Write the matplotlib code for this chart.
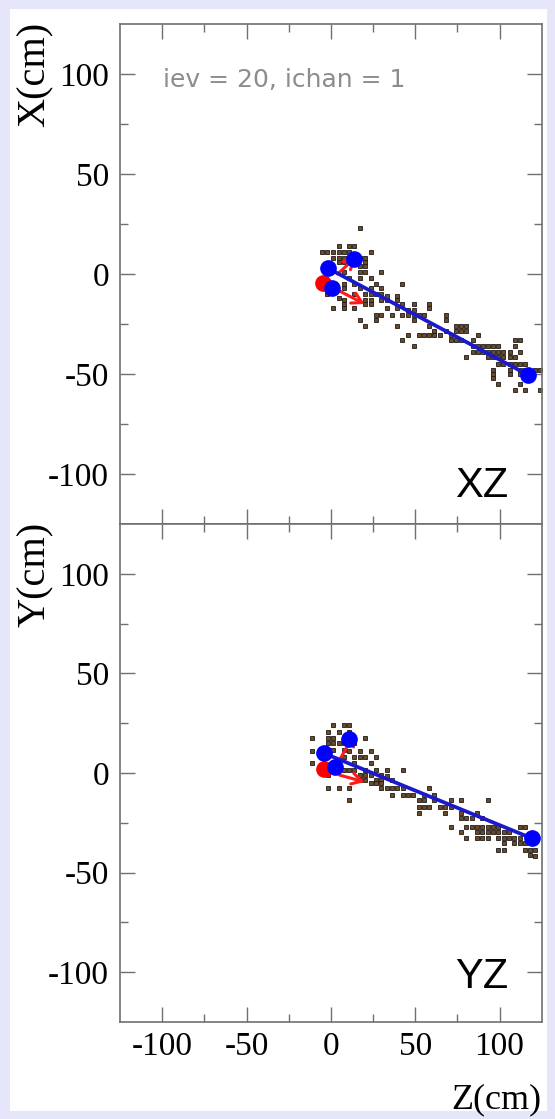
import numpy as np
import matplotlib
matplotlib.use("Agg")
import matplotlib.pyplot as plt
from matplotlib.patches import Rectangle

# ---------------- data (cm) ----------------
tick_major = [-100, -50, 0, 50, 100]
tick_minor = [-75, -25, 25, 75]
tick_labels = ["-100", "-50", "0", "50", "100"]

# XZ view: hits (Z, X)
xz_hits = np.array([
    (17, 23),
    (5, 14), (11, 14), (14, 14),
    (-5, 11), (-2, 11), (1.5, 11), (5, 11), (8, 11), (11, 11), (24, 11),
    (1.5, 8), (5, 8), (8, 8), (17, 8), (20, 8),
    (5, 6), (8, 6), (20, 6),
    (17, 4), (20, 4),
    (8, 1), (17, 1), (20, 1), (30, 1),
    (11, -2), (17, -2), (24, -2),
    (8, -5), (14, -5), (27, -5), (42, -5),
    (8, -7), (17, -7), (24, -7), (30, -7),
    (-2, -10), (14, -10), (20, -10), (24, -10), (27, -10), (30, -10),
    (33, -11), (39, -11),
    (5, -12), (8, -13), (20, -13), (24, -13), (30, -13), (33, -13), (39, -13),
    (8, -15), (20, -15), (24, -15), (42, -15), (49, -15), (58, -15),
    (1.5, -17), (8, -17), (14, -17), (33, -17), (39, -17), (58, -17),
    (46, -18), (49, -18),
    (27, -20.5), (30, -20.5), (36, -20.5), (42, -20.5), (46, -20.5), (49, -20.5),
    (52, -20.5), (55, -20.5), (68, -20.5),
    (17, -23), (27, -23), (49, -23), (68, -23),
    (20, -26), (39, -26), (58, -26), (74, -26), (77, -26), (80, -26),
    (61, -28.5), (68, -28.5), (74, -28.5), (77, -28.5), (80, -28.5),
    (46, -30.5), (52, -30.5), (55, -30.5), (58, -30.5), (61, -30.5), (65, -30.5),
    (71, -30.5), (87, -30.5),
    (42, -33), (71, -33), (74, -33), (77, -33), (84, -33), (109, -33), (112, -33),
    (49, -36), (84, -36), (87, -36), (90, -36), (93, -36), (96, -36), (99, -36), (109, -36),
    (84, -39), (87, -39), (90, -39), (93, -39), (96, -39), (99, -39), (102, -39),
    (106, -39), (112, -39),
    (80, -41.5), (93, -41.5), (96, -41.5), (99, -41.5), (102, -41.5), (106, -41.5), (109, -41.5),
    (99, -45), (102, -45), (106, -45), (109, -45), (112, -45), (115, -45),
    (96, -48), (106, -48), (112, -48), (115, -48), (121, -48), (124, -48),
    (96, -50), (106, -50), (112, -50),
    (96, -52),
    (99, -55), (112, -55),
    (109, -58), (115, -58), (124, -58),
])

# YZ view: hits (Z, Y)
yz_hits = np.array([
    (1.5, 24), (8, 24), (11, 24),
    (-1.6, 20.5), (4.7, 20.5), (11, 20.5),
    (-11, 17.4), (-1.6, 17.4), (1.5, 17.4), (14, 17.4), (20, 17.4),
    (-1.6, 15), (1.5, 15), (4.7, 15), (7.8, 15), (14, 15),
    (-11, 11), (1.5, 11.5), (7.8, 11.5), (11, 11), (17, 11), (24, 11),
    (7.8, 8.2), (14, 8.2), (17, 8.2), (20, 8.2), (27, 8.2),
    (-11, 5), (14, 5), (24, 5),
    (7.8, 1.5), (11, 1.5), (14, 1.5), (20, 1.5), (27, 1.5), (33, 1.5), (42.5, 1.5),
    (-1.6, -1), (17, -1), (20, -1), (24, -1), (30, -1), (33, -1.5),
    (17, -3.5), (20, -3.5), (27, -3.5), (30, -3.5), (36, -3.5),
    (24, -5), (27, -5), (30, -5),
    (-1.6, -7.7), (4.7, -7.7), (11, -7.7), (30, -7.7), (33, -7.7), (36, -7.7),
    (39, -7.7), (42.5, -7.7), (58, -7.7),
    (36, -11), (42.5, -11), (45.7, -11), (48.8, -11), (55, -11), (61.4, -11),
    (11, -13.5), (52, -13.5), (55, -13.5), (61.4, -13.5), (71, -13.5), (77, -13.5), (93, -13.5),
    (52, -17.2), (55, -17.2), (58, -17.2), (64.6, -17.2), (67.7, -17.2), (71, -17.2),
    (52, -20.2), (67.7, -20.2), (77, -20.2), (86.6, -20.2),
    (77, -22.8), (80.3, -22.8), (83.5, -22.8), (89.8, -22.8),
    (71, -27), (80.3, -27), (83.5, -27), (86.6, -27), (89.8, -27), (93, -27), (96, -27),
    (99, -27), (112, -27), (115, -27),
    (77, -29.4), (86.6, -29.4), (89.8, -29.4), (93, -29.4), (96, -29.4), (99, -29.4),
    (102.4, -29.4), (105.5, -29.4),
    (80.3, -32.8), (86.6, -32.8), (89.8, -32.8), (93, -32.8), (99, -32.8), (102.4, -32.8),
    (105.5, -32.8), (108.7, -32.8), (112, -32.8),
    (102.4, -35.3), (108.7, -35.3), (112, -35.3), (115, -35.3),
    (99, -38.6), (102.4, -38.6), (115, -38.6), (118, -38.6), (121, -38.6),
    (118, -41.2), (121, -41.5),
])

# reconstructed objects
xz_track_z = [-1.5, 117.0]
xz_track_x = [2.8, -50.5]
xz_blue_z = [-1.5, 13.7, 0.9, 117.0]
xz_blue_x = [2.8, 7.5, -6.8, -50.5]
xz_red_z = [-4.4]
xz_red_x = [-4.7]
xz_arrows = [((4.0, 0.0), (15.0, 8.5)), ((4.0, -8.0), (20.0, -15.0))]

yz_track_z = [-4.0, 119.2]
yz_track_y = [9.9, -32.8]
yz_blue_z = [-4.0, 11.0, 2.5, 119.2]
yz_blue_y = [9.9, 17.1, 3.2, -32.8]
yz_red_z = [-3.8]
yz_red_y = [2.0]
yz_arrows = [((4.0, 5.0), (14.5, 20.0)), ((5.0, -1.0), (20.0, -4.5))]

info_text = "iev = 20, ichan = 1"

# ---------------- figure ----------------
W, H = 555, 1119
fig = plt.figure(figsize=(W / 100, H / 100), dpi=100)
fig.patch.set_facecolor("#e6e6fa")
fig.add_artist(Rectangle((10 / W, 1 - 1111 / H), 537 / W, 1102 / H,
                         transform=fig.transFigure, facecolor="white",
                         edgecolor="none", zorder=-10))

L, R = 120, 541.7
ax_top = fig.add_axes([L / W, 1 - 524 / H, (R - L) / W, 500 / H])
ax_bot = fig.add_axes([L / W, 1 - 1022 / H, (R - L) / W, 498 / H])

serif = "Liberation Serif"
frame_col = "#707070"

for ax in (ax_top, ax_bot):
    ax.set_xlim(-125, 125)
    ax.set_ylim(-125, 125)
    ax.set_xticks(tick_major)
    ax.set_xticks(tick_minor, minor=True)
    ax.set_yticks(tick_major)
    ax.set_yticks(tick_minor, minor=True)
    ax.set_yticklabels(tick_labels, fontfamily=serif, fontsize=24)
    ax.tick_params(which="major", direction="in", length=11, width=1,
                   color=frame_col, top=True, right=True, pad=8)
    ax.tick_params(which="minor", direction="in", length=6, width=1,
                   color=frame_col, top=True, right=True)
    for s in ax.spines.values():
        s.set_color(frame_col)
        s.set_linewidth(1.2)
    ax.set_facecolor("white")

ax_top.tick_params(labelbottom=False)
ax_bot.set_xticklabels(tick_labels, fontfamily=serif, fontsize=24)
ax_bot.tick_params(axis="x", which="major", pad=7)


def draw_view(ax, hits, tz, tv, bz, bv, rz, rv, arrows):
    ax.plot(hits[:, 0], hits[:, 1], "s", ms=2.7, mfc="#6b4a2a", mec="#1e1a16",
            mew=0.6, zorder=2, clip_on=True)
    for (s, e) in arrows:
        ax.annotate("", xy=e, xytext=s,
                    arrowprops=dict(arrowstyle="->,head_length=0.7,head_width=0.4",
                                    color="#ff1a1a", lw=2.2, shrinkA=0, shrinkB=0),
                    zorder=3)
    ax.plot(tz, tv, "-", color="#1a1acc", lw=2.7, zorder=4)
    ax.plot(rz, rv, "o", ms=11, color="#ff0000", mec="#ff0000", zorder=5)
    ax.plot(bz, bv, "o", ms=11, color="#0000ff", mec="#0000ff", zorder=6)


draw_view(ax_top, xz_hits, xz_track_z, xz_track_x, xz_blue_z, xz_blue_x,
          xz_red_z, xz_red_x, xz_arrows)
draw_view(ax_bot, yz_hits, yz_track_z, yz_track_y, yz_blue_z, yz_blue_y,
          yz_red_z, yz_red_y, yz_arrows)

# texts
fig.text(163 / W, 1 - 87 / H, info_text, fontfamily="DejaVu Sans", fontsize=18,
         color="#8c8c8c", ha="left", va="baseline")
fig.text(508 / W, 1 - 497 / H, "XZ", fontfamily="Liberation Sans", fontsize=30,
         color="black", ha="right", va="baseline")
fig.text(508 / W, 1 - 988 / H, "YZ", fontfamily="Liberation Sans", fontsize=30,
         color="black", ha="right", va="baseline")
fig.text(35 / W, 1 - 74 / H, "X(cm)", fontfamily=serif, fontsize=29,
         rotation=90, ha="center", va="center")
fig.text(35 / W, 1 - 574 / H, "Y(cm)", fontfamily=serif, fontsize=29,
         rotation=90, ha="center", va="center")
fig.text(541 / W, 1 - 1100 / H, "Z(cm)", fontfamily=serif, fontsize=26,
         ha="right", va="center")

fig.savefig("out.png", dpi=100, facecolor=fig.get_facecolor())
